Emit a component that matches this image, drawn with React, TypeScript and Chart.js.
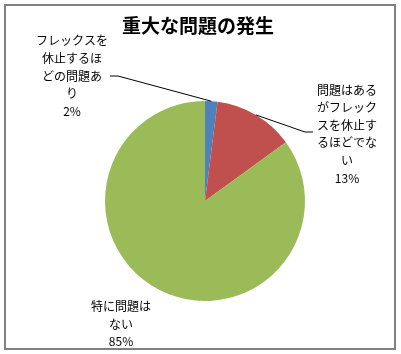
import React, { useEffect, useRef } from "react";
import { Chart, registerables } from "chart.js";

Chart.register(...registerables);

const TITLE = "重大な問題の発生";
const categories = ["フレックスを休止するほどの問題あり", "問題はあるがフレックスを休止するほどでない", "特に問題はない"];
const values = [2, 13, 85];
const colors = ["#4F81BD", "#C0504D", "#9BBB59"];
const labelLines = [
  ["フレックスを", "休止するほ", "どの問題あ", "り"],
  ["問題はある", "がフレック", "スを休止す", "るほどでな", "い"],
  ["特に問題は", "ない"],
];
// label centre offsets relative to pie centre, in units of radius; leader flag
const labelPos = [
  { dx: -1.33, dy: -1.25, leader: true, side: "left" },
  { dx: 1.42, dy: -0.67, leader: true, side: "right" },
  { dx: -0.84, dy: 1.23, leader: false, side: "none" },
];

const FONT = '"Noto Sans CJK JP", "Noto Sans", sans-serif';

const decorPlugin = {
  id: "decor",
  beforeDraw(chart: any) {
    const ctx = chart.ctx;
    ctx.save();
    ctx.fillStyle = "#ffffff";
    ctx.fillRect(0, 0, chart.width, chart.height);
    ctx.strokeStyle = "#808080";
    ctx.lineWidth = 2;
    ctx.strokeRect(5, 5, chart.width - 11, chart.height - 10);
    ctx.fillStyle = "#000";
    ctx.font = `bold 19px ${FONT}`;
    ctx.textAlign = "center";
    ctx.textBaseline = "middle";
    ctx.fillText(TITLE, 198, 26);
    ctx.restore();
  },
  afterDraw(chart: any) {
    const ctx = chart.ctx;
    const meta = chart.getDatasetMeta(0);
    const total = values.reduce((a, b) => a + b, 0);
    ctx.save();
    meta.data.forEach((arc: any, i: number) => {
      const { x, y, outerRadius, startAngle, endAngle } = arc.getProps(
        ["x", "y", "outerRadius", "startAngle", "endAngle"],
        true
      );
      const mid = (startAngle + endAngle) / 2;
      const px = x + Math.cos(mid) * outerRadius;
      const py = y + Math.sin(mid) * outerRadius;
      const pos = labelPos[i];
      const lines = [...labelLines[i], Math.round((values[i] / total) * 100) + "%"];
      const lh = 17.6;
      const cx = x + pos.dx * outerRadius;
      const cy = y + pos.dy * outerRadius;
      const top = cy - ((lines.length - 1) * lh) / 2;
      ctx.font = `12px ${FONT}`;
      ctx.fillStyle = "#000";
      ctx.textAlign = "center";
      ctx.textBaseline = "middle";
      let maxW = 0;
      labelLines[i].forEach((l) => (maxW = Math.max(maxW, ctx.measureText(l).width)));
      lines.forEach((l, k) => ctx.fillText(l, cx, top + k * lh));
      if (pos.leader) {
        ctx.strokeStyle = "#000";
        ctx.lineWidth = 1;
        ctx.beginPath();
        if (pos.side === "left") {
          const ly = top + 2 * lh;
          const ex = cx + maxW / 2 + 2;
          ctx.moveTo(px, py);
          ctx.lineTo(ex + 8, ly);
          ctx.lineTo(ex, ly);
        } else {
          const ly = cy - 2;
          const ex = cx - maxW / 2 - 4;
          ctx.moveTo(px, py);
          ctx.lineTo(ex - 8, ly);
          ctx.lineTo(ex, ly);
        }
        ctx.stroke();
      }
    });
    ctx.restore();
  },
};

export default function App() {
  const ref = useRef<HTMLCanvasElement | null>(null);
  useEffect(() => {
    document.body.style.margin = "0";
    const chart = new Chart(ref.current as HTMLCanvasElement, {
      type: "pie",
      data: {
        labels: categories,
        datasets: [
          {
            data: values,
            backgroundColor: colors,
            borderWidth: 0,
          },
        ],
      },
      options: {
        responsive: false,
        animation: false,
        layout: { padding: { left: 105, right: 96, top: 101, bottom: 53 } },
        plugins: {
          legend: { display: false },
          tooltip: { enabled: false },
          title: { display: false },
        },
      },
      plugins: [decorPlugin],
    });
    return () => chart.destroy();
  }, []);
  return <canvas ref={ref} width={401} height={354} style={{ display: "block" }} />;
}
